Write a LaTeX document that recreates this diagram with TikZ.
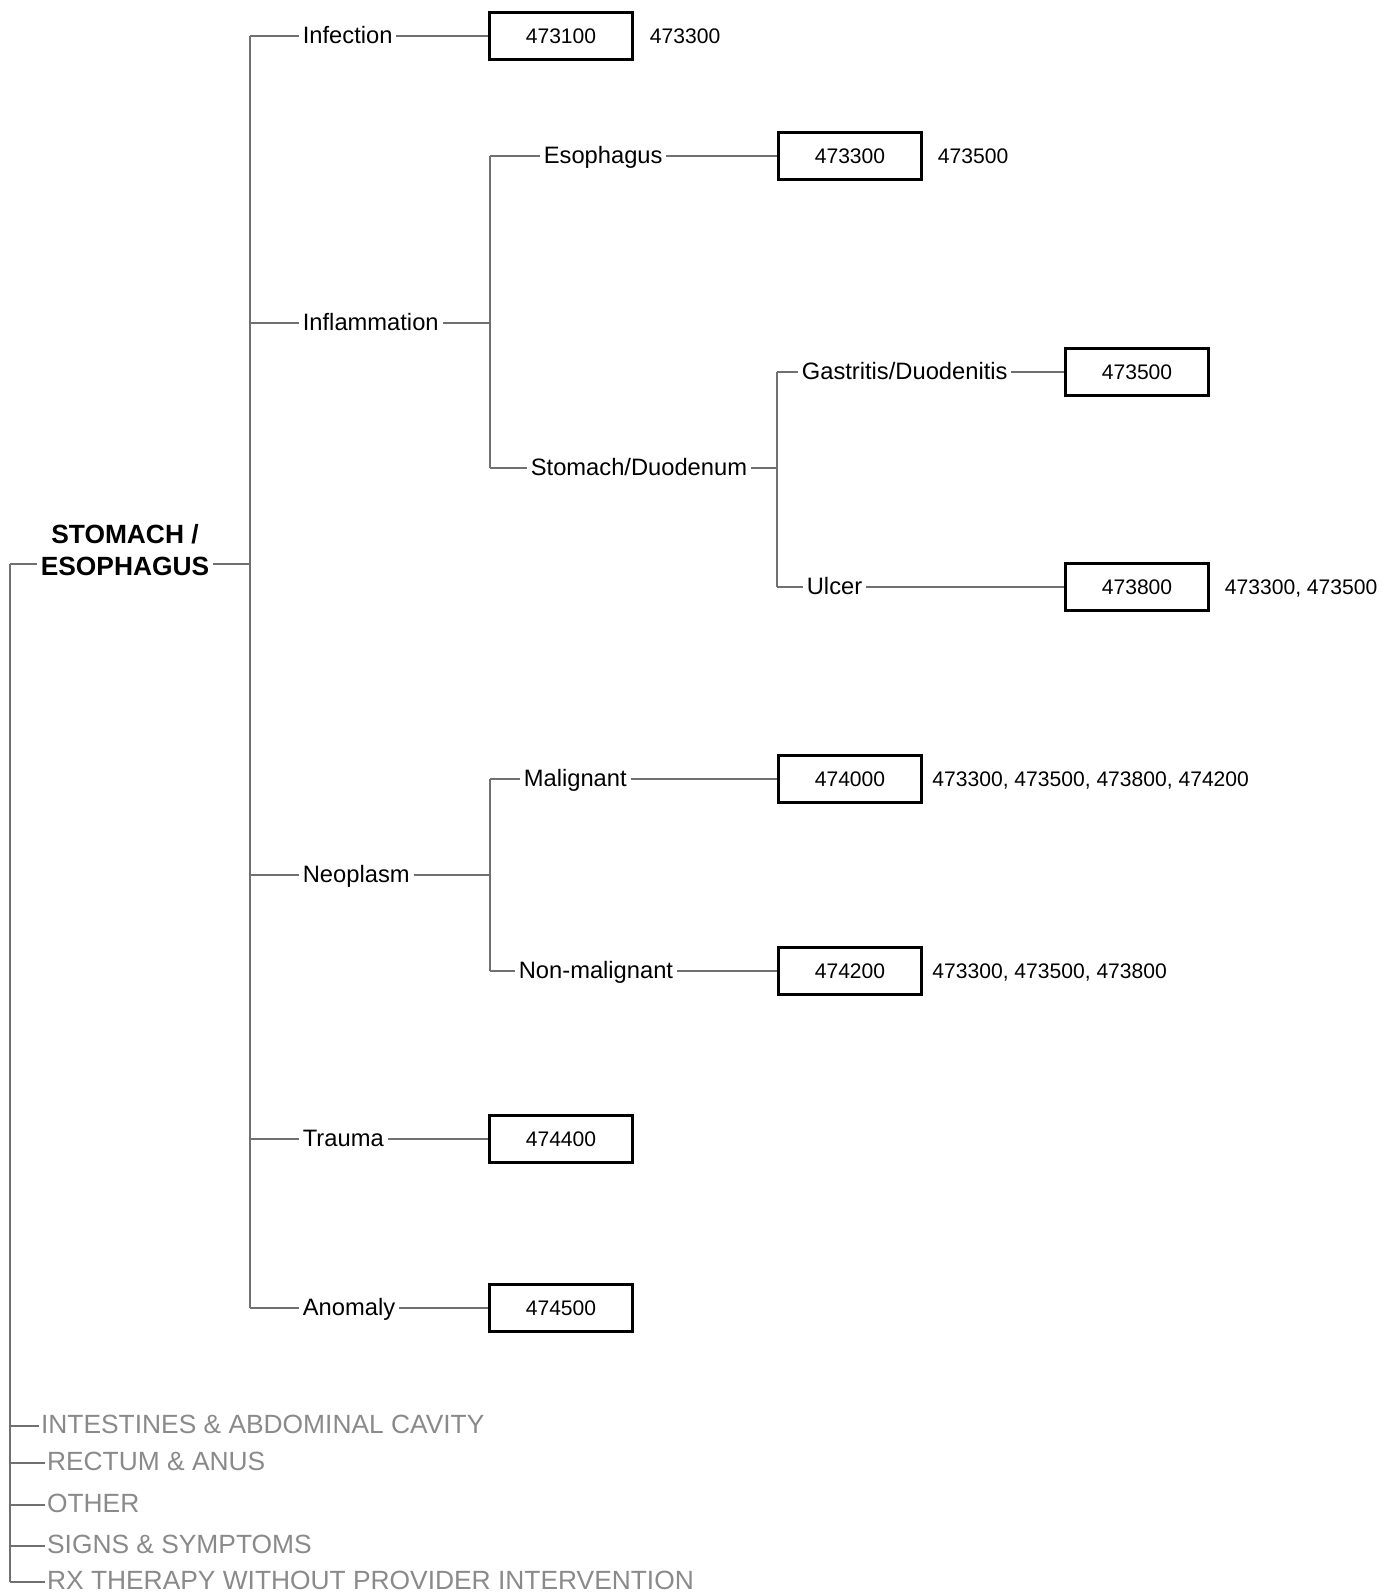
\documentclass[tikz,border=0pt]{standalone}
\usepackage{fontspec}
\setmainfont{Liberation Sans}
\usetikzlibrary{positioning}
\definecolor{linkgray}{RGB}{112,112,112}
\definecolor{areagray}{RGB}{138,138,138}

\begin{document}
\begin{tikzpicture}[x=0.02cm,y=-0.02cm,
    link/.style={draw=linkgray,line width=0.75pt},
    cat/.style={anchor=west,inner sep=2pt,text height=0.95em,text depth=0.08em,font=\fontsize{13.5}{16}\selectfont},
    codebox/.style={draw,line width=1.5pt,minimum width=2.85cm,minimum height=0.93cm,inner sep=0pt,font=\fontsize{12}{14}\selectfont},
    seealso/.style={inner sep=2pt,text height=0.9em,text depth=0.08em,font=\fontsize{12}{14}\selectfont},
    area/.style={anchor=west,inner sep=1pt,text=areagray,text height=0.95em,text depth=0.08em,font=\fontsize{15}{18}\selectfont}]
  \useasboundingbox (0,0) rectangle (1385,1593);

  \node[align=center,inner sep=2pt,font=\bfseries\fontsize{15}{18.5}\selectfont] (root) at (125,550) {STOMACH /\\ESOPHAGUS};
  \coordinate (ltop) at (10,564);
  \coordinate (mbar) at (250,564);
  \coordinate (ibar) at (490,323);
  \coordinate (nbar) at (490,875);
  \coordinate (sbar) at (777,468);

  \node[cat] (infection) at (299,36) {Infection};
  \node[cat] (inflammation) at (299,323) {Inflammation};
  \node[cat] (neoplasm) at (299,875) {Neoplasm};
  \node[cat] (trauma) at (299,1139) {Trauma};
  \node[cat] (anomaly) at (299,1308) {Anomaly};
  \node[cat] (esophagus) at (540,156) {Esophagus};
  \node[cat] (stomach) at (527,468) {Stomach/Duodenum};
  \node[cat] (gastritis) at (798,372) {Gastritis/Duodenitis};
  \node[cat] (ulcer) at (803,587) {Ulcer};
  \node[cat] (malignant) at (520,779) {Malignant};
  \node[cat] (nonmalignant) at (515,971) {Non-malignant};

  \node[codebox] (c473100) at (561,36) {473100};
  \node[codebox] (c473300) at (850,156) {473300};
  \node[codebox] (c473500) at (1137,372) {473500};
  \node[codebox] (c473800) at (1137,587) {473800};
  \node[codebox] (c474000) at (850,779) {474000};
  \node[codebox] (c474200) at (850,971) {474200};
  \node[codebox] (c474400) at (561,1139) {474400};
  \node[codebox] (c474500) at (561,1308) {474500};

  \node[seealso,right=0.25cm of c473100] (s473100) {473300};
  \node[seealso,right=0.23cm of c473300] (s473300) {473500};
  \node[seealso,right=0.23cm of c473800] (s473800) {473300, 473500};
  \node[seealso,right=0.12cm of c474000] (s474000) {473300, 473500, 473800, 474200};
  \node[seealso,right=0.12cm of c474200] (s474200) {473300, 473500, 473800};

  \node[area] (intestines) at (39,1426) {INTESTINES \& ABDOMINAL CAVITY};
  \node[area] (rectum) at (45,1463) {RECTUM \& ANUS};
  \node[area] (other) at (45,1505) {OTHER};
  \node[area] (signs) at (45,1546) {SIGNS \& SYMPTOMS};
  \node[area] (rx) at (45,1582) {RX THERAPY WITHOUT PROVIDER INTERVENTION};

  \draw[link] (ltop) -- (ltop |- rx);
  \draw[link] (ltop) -- (root.west |- ltop);
  \draw[link] (root.east |- mbar) -- (mbar);
  \foreach \n in {intestines,rectum,other,signs,rx}
    \draw[link] (ltop |- \n) -- (\n.west);

  \draw[link] (mbar |- infection) -- (mbar |- anomaly);
  \foreach \n in {infection,inflammation,neoplasm,trauma,anomaly}
    \draw[link] (mbar |- \n) -- (\n.west);

  \draw[link] (inflammation) -- (ibar);
  \draw[link] (ibar |- esophagus) -- (ibar |- stomach);
  \foreach \n in {esophagus,stomach}
    \draw[link] (ibar |- \n) -- (\n.west);

  \draw[link] (stomach) -- (sbar);
  \draw[link] (sbar |- gastritis) -- (sbar |- ulcer);
  \foreach \n in {gastritis,ulcer}
    \draw[link] (sbar |- \n) -- (\n.west);

  \draw[link] (neoplasm) -- (nbar);
  \draw[link] (nbar |- malignant) -- (nbar |- nonmalignant);
  \foreach \n in {malignant,nonmalignant}
    \draw[link] (nbar |- \n) -- (\n.west);

  \foreach \a/\b in {infection/c473100,esophagus/c473300,gastritis/c473500,ulcer/c473800,
      malignant/c474000,nonmalignant/c474200,trauma/c474400,anomaly/c474500}
    \draw[link] (\a) -- (\b);
\end{tikzpicture}
\end{document}
